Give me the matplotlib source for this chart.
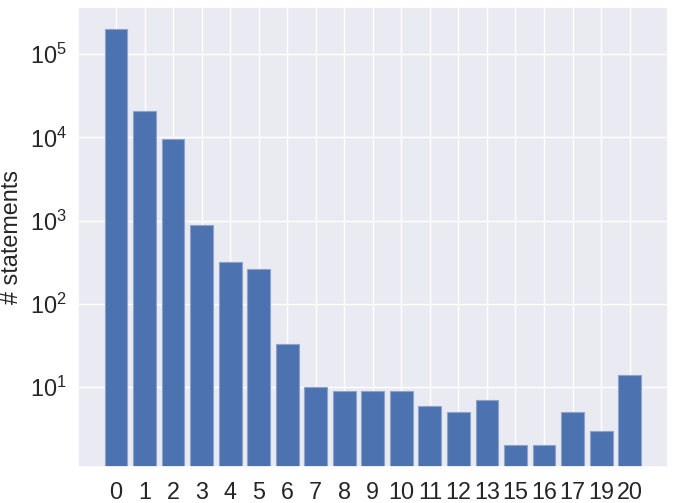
import matplotlib
matplotlib.use("Agg")
import matplotlib.pyplot as plt
import seaborn as sns

# number of distinct values per statement (categories) and counts
categories = ["0", "1", "2", "3", "4", "5", "6", "7", "8", "9", "10",
              "11", "12", "13", "15", "16", "17", "19", "20"]
counts = [203000, 21000, 9500, 900, 320, 260, 33, 10, 9, 9, 9,
          6, 5, 7, 2, 2, 5, 3, 14]

sns.set_theme(style="darkgrid")
plt.rcParams['font.family'] = ['Liberation Sans', 'DejaVu Sans']
plt.rcParams['mathtext.fontset'] = 'custom'
plt.rcParams['mathtext.rm'] = 'Liberation Sans'
plt.rcParams['mathtext.it'] = 'Liberation Sans:italic'

fig, ax = plt.subplots(figsize=(6.76, 5.03), dpi=100)
ax.bar(categories, counts, width=0.8, color="#4C72B0",
       edgecolor="#8ea3cc", linewidth=0.8)
ax.set_yscale("log")
ax.set_ylim(1.11, 3.73e5)
ax.set_ylabel("# statements", fontsize=16.8, labelpad=5)
ax.tick_params(axis="x", labelsize=16.8, pad=4)
ax.tick_params(axis="y", labelsize=16.8, pad=2)

fig.subplots_adjust(left=0.115, right=0.988, top=0.987, bottom=0.072)
fig.savefig("out.png", dpi=100)
